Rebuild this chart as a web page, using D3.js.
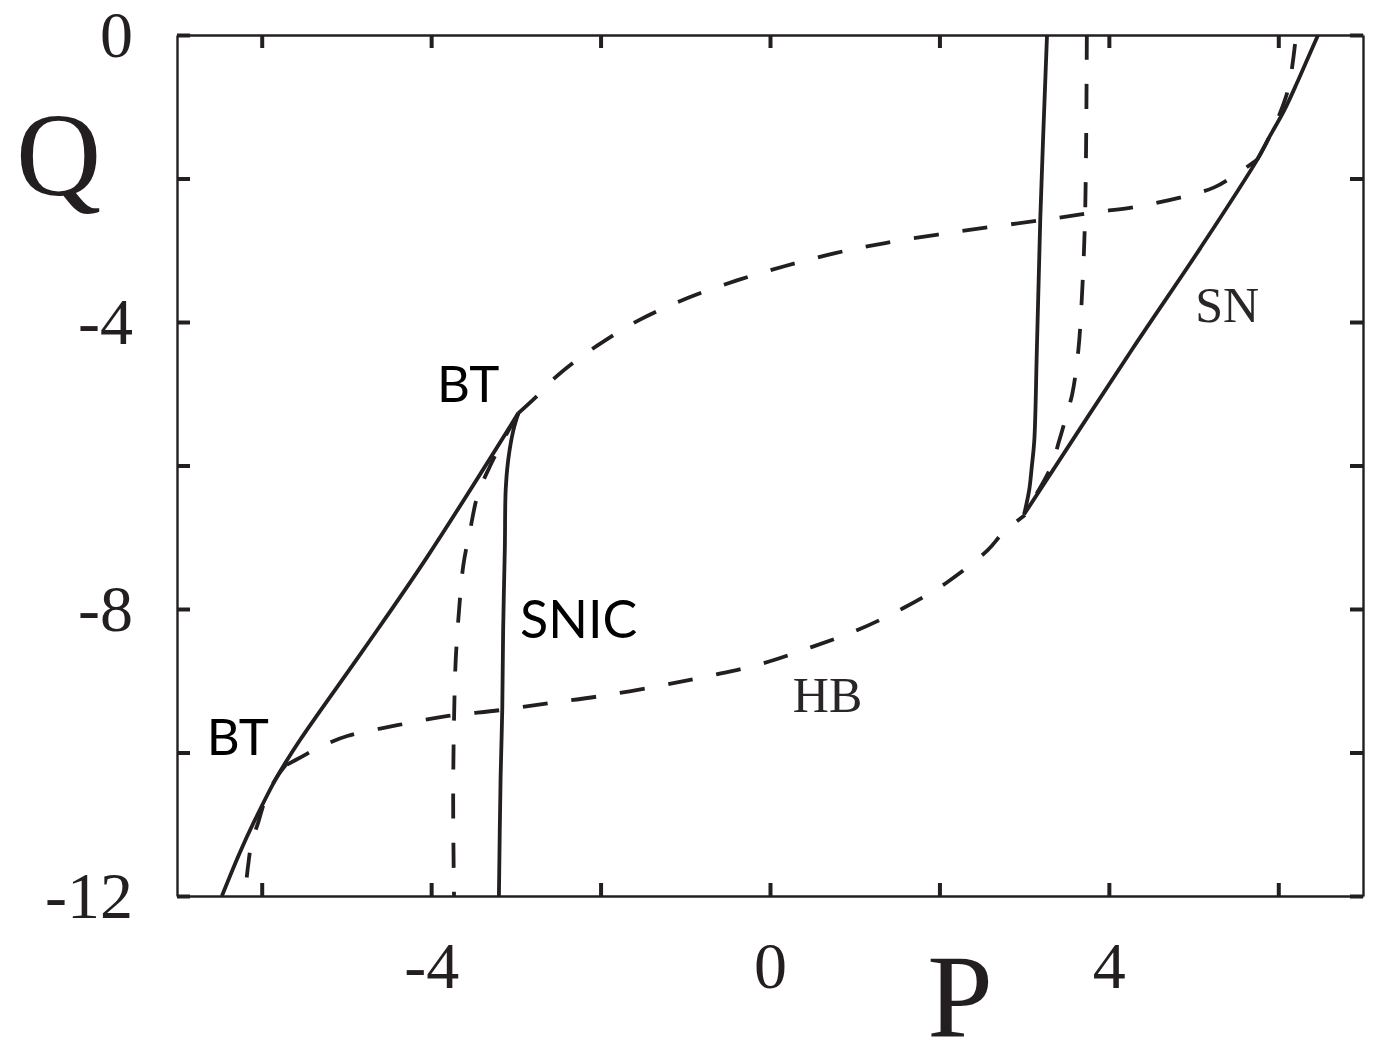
<!DOCTYPE html>
<html>
<head>
<meta charset="utf-8">
<script src="https://cdn.jsdelivr.net/npm/d3@7"></script>
<style>
  html, body { margin: 0; padding: 0; background: #fff; }
  svg { display: block; }
</style>
</head>
<body>
<svg id="chart" width="1380" height="1039"></svg>
<script>
// Two-parameter bifurcation diagram in the (P, Q) plane.

// Axis ticks and labels
const xTicks = [-6, -4, -2, 0, 2, 4, 6];
const xTickLabels = [-4, 0, 4];
const yTicks = [0, -2, -4, -6, -8, -10, -12];
const yTickLabels = [0, -4, -8, -12];

// Saddle-node curve, left branch (from upper BT down to the bottom edge)
const snLeftP = [-2.97, -4.05, -4.80, -5.55, -5.82, -6.08, -6.26, -6.47];
const snLeftQ = [-5.27, -7.28, -8.57, -9.83, -10.34, -10.94, -11.40, -12.0];

// Saddle-node on invariant circle, left branch
const snicLeftP = [-2.97, -3.03, -3.09, -3.12, -3.13, -3.15, -3.16, -3.18, -3.20];
const snicLeftQ = [-5.27, -5.51, -5.92, -6.34, -7.14, -8.29, -9.37, -10.34, -12.0];

// Homoclinic curve leaving the upper-left BT point
const homLeftP = [-2.97, -3.15, -3.31, -3.45, -3.54, -3.62, -3.67, -3.71, -3.73, -3.74, -3.73];
const homLeftQ = [-5.27, -5.65, -6.02, -6.41, -6.90, -7.39, -8.01, -8.71, -9.55, -10.66, -12.0];

// Homoclinic curve leaving the lower-left BT point
const homLowP = [-5.70, -5.82, -5.95, -6.04, -6.12, -6.16, -6.20];
const homLowQ = [-10.15, -10.34, -10.63, -10.97, -11.26, -11.57, -12.0];

// Hopf curve, lower branch (lower-left BT to right BT)
const hbLowP = [-5.70, -5.53, -5.29, -4.99, -4.40, -3.80, -3.19, -2.60, -1.98, -1.30, -0.71, -0.12, 0.47, 1.04, 1.57, 2.10, 2.57, 2.75, 3.01];
const hbLowQ = [-10.17, -10.06, -9.91, -9.77, -9.62, -9.49, -9.41, -9.31, -9.21, -9.07, -8.93, -8.77, -8.54, -8.29, -7.99, -7.62, -7.18, -6.94, -6.69];

// Hopf curve, upper branch (upper-left BT to upper-right BT)
const hbHighP = [-2.97, -2.74, -2.54, -2.28, -2.04, -1.54, -0.98, -0.39, 0.18, 0.77, 1.36, 2.27, 3.21, 3.78, 4.39, 4.96, 5.25, 5.53, 5.75];
const hbHighQ = [-5.27, -5.02, -4.78, -4.53, -4.33, -3.97, -3.67, -3.42, -3.22, -3.04, -2.90, -2.73, -2.58, -2.48, -2.38, -2.23, -2.12, -1.92, -1.74];

// Homoclinic curve leaving the upper-right BT point
const homHighP = [5.75, 5.90, 6.02, 6.12, 6.17, 6.21];
const homHighQ = [-1.74, -1.41, -1.09, -0.74, -0.39, 0.0];

// Saddle-node curve, right branch (top edge down to right BT)
const snRightP = [6.47, 6.35, 6.22, 6.07, 5.90, 5.75, 5.08, 4.27, 3.00];
const snRightQ = [0.0, -0.32, -0.67, -1.05, -1.41, -1.74, -2.97, -4.39, -6.68];

// Saddle-node on invariant circle, right branch
const snicRightP = [3.27, 3.19, 3.15, 3.12, 3.09, 3.06, 3.00];
const snicRightQ = [0.0, -2.58, -4.39, -5.65, -6.02, -6.34, -6.68];

// Homoclinic curve leaving the right BT point
const homRightP = [3.74, 3.72, 3.68, 3.64, 3.57, 3.49, 3.41, 3.31, 3.00];
const homRightQ = [0.0, -2.48, -3.69, -4.39, -4.99, -5.34, -5.67, -6.04, -6.68];

const zip = (ps, qs) => ps.map((p, i) => [p, qs[i]]);

const curves = [
  { pts: zip(snLeftP, snLeftQ), dashed: false },
  { pts: zip(snicLeftP, snicLeftQ), dashed: false },
  { pts: zip(snRightP, snRightQ), dashed: false },
  { pts: zip(snicRightP, snicRightQ), dashed: false },
  { pts: zip(homLeftP, homLeftQ), dashed: true },
  { pts: zip(homLowP, homLowQ), dashed: true },
  { pts: zip(hbLowP, hbLowQ), dashed: true },
  { pts: zip(hbHighP, hbHighQ), dashed: true },
  { pts: zip(homHighP, homHighQ), dashed: true },
  { pts: zip(homRightP, homRightQ), dashed: true }
];

const ink = "#231f20";
const margin = { left: 177, right: 17, top: 35, bottom: 143 };
const W = 1380, H = 1039;

const svg = d3.select("#chart");

const x = d3.scaleLinear().domain([-7, 7]).range([margin.left, W - margin.right]);
const y = d3.scaleLinear().domain([-12, 0]).range([H - margin.bottom, margin.top]);

// Clip curves to the plotting frame
svg.append("defs").append("clipPath").attr("id", "plotClip")
  .append("rect")
  .attr("x", x(-7)).attr("y", y(0))
  .attr("width", x(7) - x(-7)).attr("height", y(-12) - y(0));

const line = d3.line()
  .x(d => x(d[0]))
  .y(d => y(d[1]))
  .curve(d3.curveCatmullRom.alpha(0.5));

svg.append("g").attr("clip-path", "url(#plotClip)")
  .selectAll("path")
  .data(curves)
  .join("path")
  .attr("d", d => line(d.pts))
  .attr("fill", "none")
  .attr("stroke", ink)
  .attr("stroke-width", 3.8)
  .attr("stroke-dasharray", d => d.dashed ? "25,24" : null);

// Axes: inward ticks on all four sides
const serif = "'Liberation Serif', 'Times New Roman', serif";
const tickFmtX = v => xTickLabels.includes(v) ? String(v) : "";
const tickFmtY = v => yTickLabels.includes(v) ? String(v) : "";

function styleAxis(g) {
  g.select(".domain").attr("stroke", ink).attr("stroke-width", 2.4);
  g.selectAll(".tick line").attr("stroke", ink).attr("stroke-width", 4);
  g.selectAll(".tick text")
    .attr("fill", ink)
    .style("font-family", serif)
    .style("font-size", "66px");
}

svg.append("g")
  .attr("transform", `translate(0,${y(-12)})`)
  .call(d3.axisBottom(x).tickValues(xTicks).tickFormat(tickFmtX).tickSizeInner(-13).tickSizeOuter(0).tickPadding(45))
  .call(styleAxis);

svg.append("g")
  .attr("transform", `translate(0,${y(0)})`)
  .call(d3.axisTop(x).tickValues(xTicks).tickFormat(() => "").tickSizeInner(-13).tickSizeOuter(0))
  .call(styleAxis);

svg.append("g")
  .attr("transform", `translate(${x(-7)},0)`)
  .call(d3.axisLeft(y).tickValues(yTicks).tickFormat(tickFmtY).tickSizeInner(-13).tickSizeOuter(0).tickPadding(44))
  .call(styleAxis);

svg.append("g")
  .attr("transform", `translate(${x(7)},0)`)
  .call(d3.axisRight(y).tickValues(yTicks).tickFormat(() => "").tickSizeInner(-13).tickSizeOuter(0))
  .call(styleAxis);

// Axis titles
svg.append("text")
  .attr("x", 16).attr("y", 195)
  .attr("fill", ink)
  .style("font-family", serif).style("font-size", "118px")
  .text("Q");

svg.append("text")
  .attr("x", 960).attr("y", 1037)
  .attr("text-anchor", "middle")
  .attr("fill", ink)
  .style("font-family", serif).style("font-size", "118px")
  .text("P");

// Curve labels, anchored in data coordinates
const sans = "Lato, 'Open Sans', sans-serif";
const labels = [
  { text: "BT", p: -3.93, q: -5.12, font: sans, size: 51 },
  { text: "BT", p: -6.65, q: -10.04, font: sans, size: 51 },
  { text: "SNIC", p: -2.95, q: -8.40, font: sans, size: 52 },
  { text: "HB", p: 0.27, q: -9.44, font: serif, size: 50 },
  { text: "SN", p: 5.02, q: -4.0, font: serif, size: 50 }
];

svg.append("g")
  .selectAll("text")
  .data(labels)
  .join("text")
  .attr("x", d => x(d.p))
  .attr("y", d => y(d.q))
  .attr("fill", d => d.font === serif ? "#2a2627" : "#000")
  .style("font-family", d => d.font)
  .style("font-size", d => d.size + "px")
  .text(d => d.text);
</script>
</body>
</html>
